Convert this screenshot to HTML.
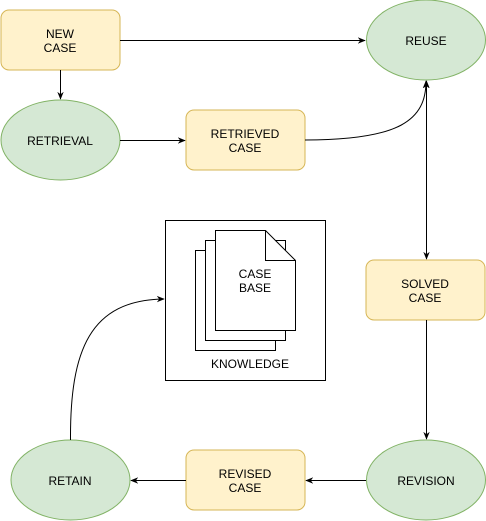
<!DOCTYPE html>
<html><head><style>body{margin:0;background:#fff}svg{display:block}text{font-family:"Liberation Sans",Arial,sans-serif;font-size:12px;fill:#000;text-anchor:middle}</style></head><body>
<svg width="486" height="521" viewBox="0 0 486 521">
<defs><marker id="a" viewBox="0 0 10 10" refX="9" refY="5" markerWidth="8" markerHeight="8" orient="auto-start-reverse"><path d="M0,1 L10,5 L0,9 L3,5z" fill="#000"/></marker></defs>
<g fill="#fff2cc" stroke="#d6b656">
<rect x="1" y="10" width="119" height="60" rx="8"/>
<rect x="186" y="110" width="119" height="60" rx="8"/>
<rect x="366" y="260" width="119" height="60" rx="8"/>
<rect x="186" y="450" width="119" height="60" rx="8"/>
</g>
<g fill="#d5e8d4" stroke="#82b366">
<ellipse cx="60.5" cy="140" rx="59.5" ry="40"/>
<ellipse cx="426" cy="40" rx="59.5" ry="40"/>
<ellipse cx="426" cy="480" rx="59.5" ry="40"/>
<ellipse cx="70.5" cy="480" rx="59.5" ry="40"/>
</g>
<rect x="165.5" y="220.5" width="160" height="160" fill="#fff" stroke="#000"/>
<g fill="#fff" stroke="#000">
<rect x="195.5" y="250.5" width="80" height="100"/>
<rect x="205.5" y="240.5" width="80" height="100"/>
<path d="M215.5,230.5 H265.5 L295.5,260.5 V330.5 H215.5Z"/>
<path d="M265.5,230.5 V260.5 H295.5" fill="none"/>
</g>
<g fill="none" stroke="#000">
<path d="M120,40.5 H365" marker-end="url(#a)"/>
<path d="M60.5,70 V99" marker-end="url(#a)"/>
<path d="M120,140.5 H185" marker-end="url(#a)"/>
<path d="M305,140 C400,140 426,120 426,81" marker-end="url(#a)"/>
<path d="M426.5,81 V259" marker-start="url(#a)" marker-end="url(#a)"/>
<path d="M426.5,320 V439" marker-end="url(#a)"/>
<path d="M366,480.5 H306" marker-end="url(#a)"/>
<path d="M186,480.5 H131" marker-end="url(#a)"/>
<path d="M70.5,440 C70,350 90,300 164,299" marker-end="url(#a)"/>
</g>
<text x="60" y="38">NEW</text><text x="60" y="52">CASE</text>
<text x="60" y="145">RETRIEVAL</text>
<text x="426" y="45">REUSE</text>
<text x="245" y="138">RETRIEVED</text><text x="245" y="152">CASE</text>
<text x="425" y="288">SOLVED</text><text x="425" y="302">CASE</text>
<text x="426" y="485">REVISION</text>
<text x="245" y="478">REVISED</text><text x="245" y="492">CASE</text>
<text x="70" y="485">RETAIN</text>
<text x="255" y="278">CASE</text><text x="255" y="292">BASE</text>
<text x="250" y="368">KNOWLEDGE</text>
</svg>
</body></html>
